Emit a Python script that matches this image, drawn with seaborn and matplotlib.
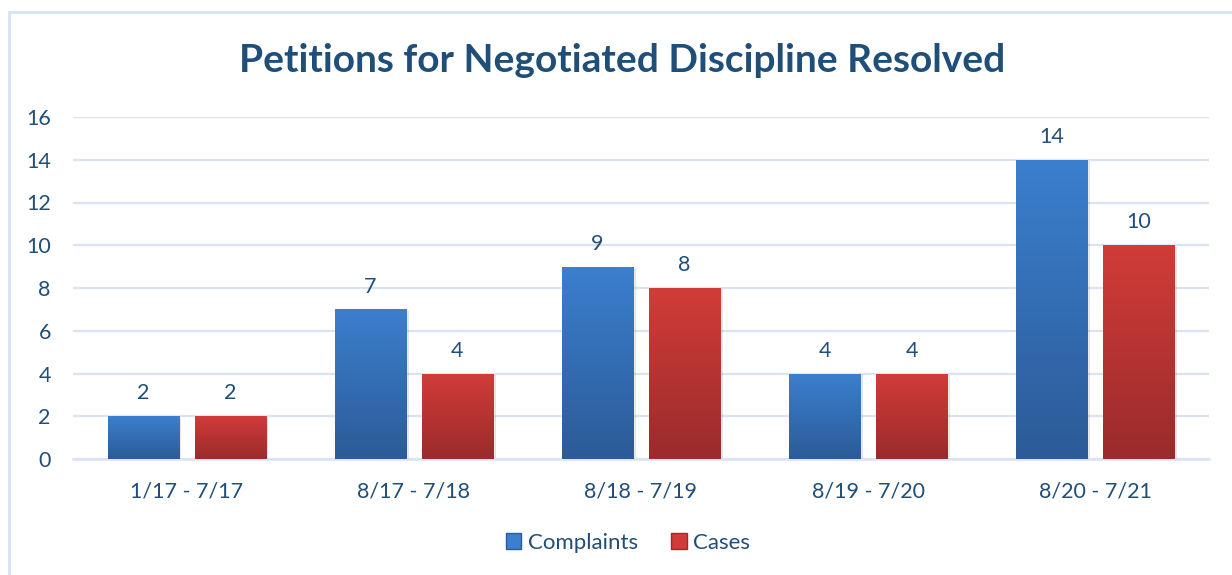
import numpy as np
import pandas as pd
import matplotlib
matplotlib.use("Agg")
import matplotlib.pyplot as plt
import matplotlib.patches as mpatches
import seaborn as sns

# data
periods = ["1/17 - 7/17", "8/17 - 7/18", "8/18 - 7/19", "8/19 - 7/20", "8/20 - 7/21"]
complaints = [2, 7, 9, 4, 14]
cases = [2, 4, 8, 4, 10]
series = ["Complaints", "Cases"]

df = pd.DataFrame({
    "period": periods * 2,
    "count": complaints + cases,
    "series": ["Complaints"] * len(periods) + ["Cases"] * len(periods),
})

text_col = "#1F4E79"
grid_col = "#D9E3F1"
grads = {
    "Complaints": ("#3B7FCE", "#2C5B98"),
    "Cases": ("#D13C38", "#9B2B2C"),
}

sns.set_theme(style="white")
plt.rcParams["font.family"] = ["Lato", "DejaVu Sans"]

fig = plt.figure(figsize=(12.32, 5.75), dpi=100)
ax = fig.add_axes([73 / 1232, 1 - 459 / 575, (1209 - 73) / 1232, (459 - 117) / 575])

sns.barplot(data=df, x="period", y="count", hue="series", hue_order=series,
            palette=[grads[s][0] for s in series], width=0.766, gap=0.184,
            ax=ax, legend=False, zorder=3)

ax.set_ylim(0, 16)
ax.set_xlim(-0.5, len(periods) - 0.5)
ax.set_yticks(range(0, 17, 2))
ax.grid(axis="y", color=grid_col, linewidth=1.6, zorder=0)
for s in ["top", "right", "left"]:
    ax.spines[s].set_visible(False)
ax.spines["bottom"].set_color(grid_col)
ax.spines["bottom"].set_linewidth(1.8)
ax.tick_params(axis="both", length=0, labelsize=15.5, colors=text_col)
ax.tick_params(axis="y", pad=16)
ax.tick_params(axis="x", pad=16)
ax.set_xlabel("")
ax.set_ylabel("")

# vertical gradient fill + value labels on each bar
bars = [p for p in ax.patches if isinstance(p, mpatches.Rectangle)]
for i, bar in enumerate(bars):
    s = series[i // len(periods)]
    top_c = np.array(matplotlib.colors.to_rgb(grads[s][0]))
    bot_c = np.array(matplotlib.colors.to_rgb(grads[s][1]))
    t = np.linspace(0, 1, 64)[:, None]
    img = (top_c * (1 - t) + bot_c * t)[:, None, :]
    x0, w = bar.get_x(), bar.get_width()
    h = bar.get_height()
    # soft shadow
    sh = mpatches.Rectangle((x0 + 0.012, -0.12), w, h + 0.05, color="#000000",
                            alpha=0.10, zorder=2, linewidth=0)
    ax.add_patch(sh)
    im = ax.imshow(img, extent=[x0, x0 + w, 0, h], aspect="auto", zorder=4,
                   interpolation="bilinear")
    im.set_clip_path(bar)
    ax.text(x0 + w / 2, h + 0.6, f"{int(h)}", ha="center", va="bottom",
            fontsize=15.5, color=text_col, zorder=5)

ax.set_xlim(-0.5, len(periods) - 0.5)
ax.set_ylim(0, 16)

fig.text(622 / 1232, 1 - 61 / 575, "Petitions for Negotiated Discipline Resolved",
         ha="center", va="center", fontsize=28, fontweight="bold", color=text_col)

handles = [mpatches.Patch(facecolor=grads[s][0], edgecolor=grads[s][1], label=s)
           for s in series]
fig.legend(handles=handles, loc="center", bbox_to_anchor=(628 / 1232, 1 - 543 / 575),
           ncol=2, frameon=False, fontsize=16, labelcolor=text_col,
           handlelength=0.7, handleheight=0.7, handletextpad=0.3, columnspacing=1.5)

# chart-area border
fig.patches.append(mpatches.Rectangle((9 / 1232, -0.05), 1.1, 1 - 12 / 575 + 0.05,
                                      transform=fig.transFigure, fill=False,
                                      edgecolor="#D6E2F3", linewidth=2))

fig.savefig("out.png", dpi=100)
